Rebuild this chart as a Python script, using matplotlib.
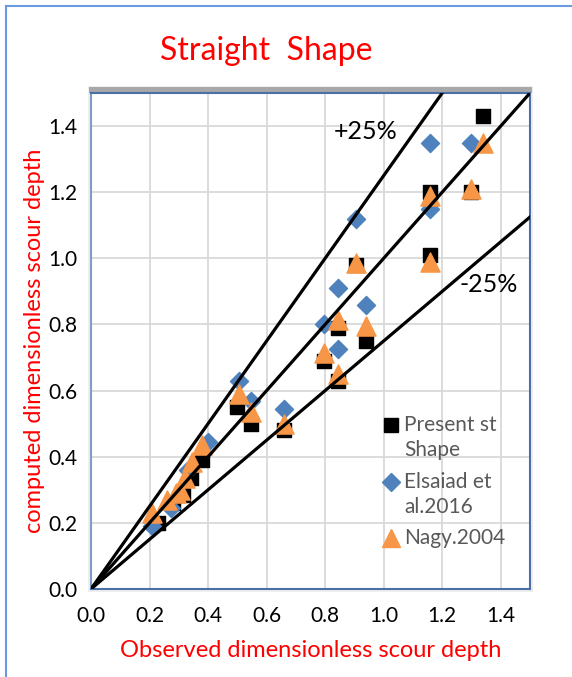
import matplotlib.pyplot as plt
from matplotlib.patches import Rectangle
from matplotlib.lines import Line2D
import numpy as np

# observed vs computed dimensionless scour depth, straight shape
obs_present = [0.23, 0.28, 0.315, 0.34, 0.38, 0.50, 0.545, 0.66, 0.795, 0.845, 0.845, 0.905, 0.94, 1.16, 1.16, 1.30, 1.34]
comp_present = [0.20, 0.26, 0.285, 0.335, 0.39, 0.55, 0.50, 0.48, 0.69, 0.79, 0.63, 0.98, 0.75, 1.01, 1.20, 1.20, 1.43]

obs_elsaiad = [0.21, 0.275, 0.33, 0.40, 0.505, 0.545, 0.66, 0.795, 0.845, 0.845, 0.905, 0.94, 1.16, 1.16, 1.30]
comp_elsaiad = [0.19, 0.245, 0.36, 0.445, 0.63, 0.57, 0.545, 0.80, 0.725, 0.91, 1.12, 0.86, 1.35, 1.15, 1.35]

obs_nagy = [0.21, 0.26, 0.29, 0.305, 0.32, 0.345, 0.38, 0.505, 0.545, 0.66, 0.795, 0.845, 0.845, 0.905, 0.94, 1.16, 1.16, 1.30, 1.34]
comp_nagy = [0.23, 0.27, 0.29, 0.30, 0.335, 0.385, 0.435, 0.59, 0.535, 0.50, 0.715, 0.815, 0.65, 0.985, 0.795, 1.19, 0.99, 1.21, 1.35]

series_labels = ['Present st\nShape', 'Elsaiad et\nal.2016', 'Nagy.2004']
ratios = [1.25, 1.0, 0.75]
ticks = [0.0, 0.2, 0.4, 0.6, 0.8, 1.0, 1.2, 1.4]

plt.rcParams['font.family'] = ['Lato', 'DejaVu Sans']

fig = plt.figure(figsize=(5.72, 6.77), dpi=100)
W, H = 572, 677

# chart area border (only left and top edges show)
fig.lines.append(Line2D([6 / W, 6 / W], [0, 1 - 6 / H], transform=fig.transFigure,
                        color='#6a9be0', linewidth=1.5))
fig.lines.append(Line2D([6 / W, 1], [1 - 6 / H, 1 - 6 / H], transform=fig.transFigure,
                        color='#6a9be0', linewidth=1.5))

ax = fig.add_axes([91 / W, 88 / H, 439 / W, 496 / H])

# soft shadow around the plot area
fig.patches.append(Rectangle((88 / W, 85 / H), 445 / W, 506 / H, transform=fig.transFigure,
                             facecolor='#efefef', edgecolor='none', zorder=-2))
fig.patches.append(Rectangle((89 / W, 584 / H), 443 / W, 6 / H, transform=fig.transFigure,
                             facecolor='#a8a8a8', edgecolor='none', zorder=-1))

ax.scatter(obs_present, comp_present, marker='s', s=110, color='black', zorder=3)
ax.scatter(obs_elsaiad, comp_elsaiad, marker='D', s=85, color='#4f81bd', zorder=4)
ax.scatter(obs_nagy, comp_nagy, marker='^', s=190, color='#f79646', zorder=5)

x = np.array([0.0, 1.5])
for r in ratios:
    ax.plot(x, r * x, color='black', linewidth=2.3, zorder=6)

ax.text(0.94, 1.385, '+25%', fontsize=18, ha='center', va='center', zorder=7)
ax.text(1.36, 0.92, '-25%', fontsize=18, ha='center', va='center', zorder=7)

ax.set_xlim(0, 1.5)
ax.set_ylim(0, 1.5)
ax.set_xticks(ticks)
ax.set_yticks(ticks)
ax.set_xticklabels([f'{t:.1f}' for t in ticks])
ax.set_yticklabels([f'{t:.1f}' for t in ticks])
ax.tick_params(length=0, labelsize=15, pad=12)
ax.tick_params(axis='y', pad=10)
ax.grid(True, color='#d9d9d9', linewidth=1.3)
ax.set_axisbelow(True)
for s in ax.spines.values():
    s.set_color('#4a70a8')
    s.set_linewidth(1.5)
ax.spines['left'].set_color('#7f9cc4')

ax.set_xlabel('Observed dimensionless scour depth', color='red', fontsize=17, labelpad=10)
ax.set_ylabel('computed dimensionless scour depth', color='red', fontsize=17, labelpad=2)
fig.text(266 / W, 1 - 51 / H, 'Straight  Shape', color='red', fontsize=23,
         ha='center', va='center')

# legend drawn by hand so the marker sits beside the first line of each label
leg_markers = [('s', 'black', 110), ('D', '#4f81bd', 85), ('^', '#f79646', 170)]
leg_y = [425, 482, 538]
for (m, c, sz), lab, yy in zip(leg_markers, series_labels, leg_y):
    yf = 1 - yy / H
    fig.add_artist(Line2D([391 / W], [yf], transform=fig.transFigure, marker=m,
                          markersize=np.sqrt(sz), color=c, linestyle='none'))
    fig.text(404 / W, yf + 10 / H, lab, color='#595959', fontsize=15,
             ha='left', va='top', linespacing=1.3)

fig.savefig('out.png', dpi=100)
